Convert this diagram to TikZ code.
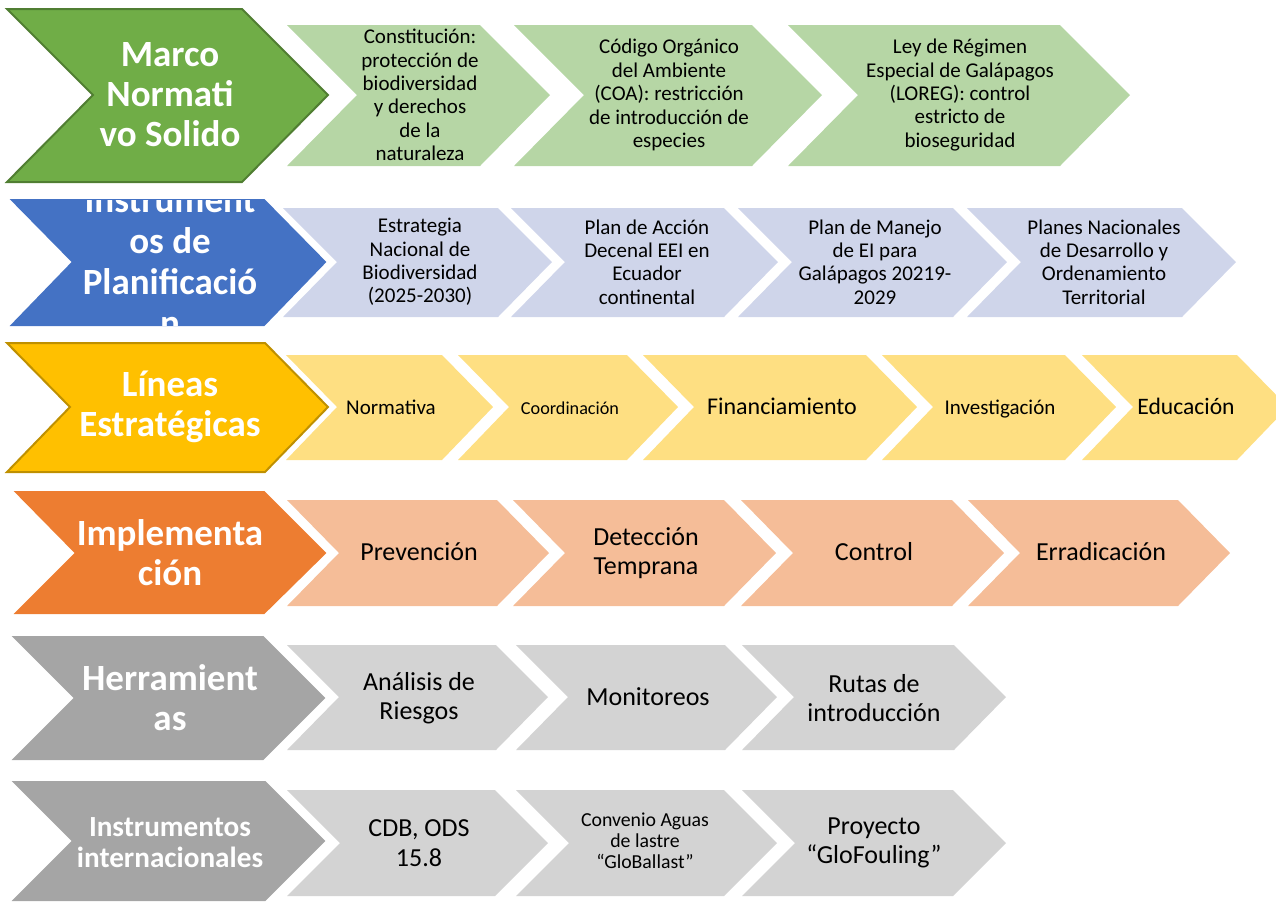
\documentclass[tikz,border=0pt]{standalone}
\usepackage{fontspec}
\setmainfont{Carlito}
\usepackage{tikz}
\usetikzlibrary{positioning}

\definecolor{verde}{HTML}{70AD47}
\definecolor{verdeborde}{HTML}{507E32}
\definecolor{verdeclaro}{RGB}{182,214,165}
\definecolor{azul}{HTML}{4472C4}
\definecolor{azulclaro}{HTML}{CFD5EA}
\definecolor{amarillo}{HTML}{FFC000}
\definecolor{amarilloborde}{HTML}{BF9000}
\definecolor{amarilloclaro}{RGB}{254,223,130}
\definecolor{naranja}{HTML}{ED7D31}
\definecolor{naranjaclaro}{RGB}{245,189,152}
\definecolor{gris}{HTML}{A5A5A5}
\definecolor{grisclaro}{HTML}{D3D3D3}

\begin{document}
\begin{tikzpicture}[x=0.5pt, y=-0.5pt]
    \tikzstyle{principal} = [line width=1pt, line join=miter]
    \tikzstyle{titulo} = [text=white, align=center, inner sep=0pt,
	font=\bfseries\fontsize{18.5}{20}\selectfont]
    \tikzstyle{texto} = [text=black, align=center, inner sep=0pt,
	font=\fontsize{10.5}{11.7}\selectfont]
    \tikzstyle{grande} = [texto, font=\fontsize{13}{14.8}\selectfont]
    \tikzstyle{linea} = [text height=0.75em, text depth=0pt]

	\useasboundingbox (0,0) rectangle (1276,902);
	\clip (0,0) rectangle (1276,902);

	% marco normativo
	\filldraw[principal, fill=verde, draw=verdeborde] (7,9) -- (242,9) -- (328,95) -- (242,182) -- (7,182) -- (93,95) -- cycle;
	\fill[verdeclaro] (287,25) -- (480,25) -- (550,95) -- (480,166) -- (287,166) -- (357,95) -- cycle;
	\fill[verdeclaro] (514,25) -- (752,25) -- (822,95) -- (752,166) -- (514,166) -- (584,95) -- cycle;
	\fill[verdeclaro] (788,25) -- (1060,25) -- (1130,95) -- (1060,166) -- (788,166) -- (858,95) -- cycle;

	% planificacion
	\filldraw[principal, fill=azul, draw=azul] (12,200) -- (264,200) -- (325,262) -- (264,325) -- (12,325) -- (73,262) -- cycle;
	\fill[azulclaro] (283,208) -- (498,208) -- (552,262) -- (498,317) -- (283,317) -- (337,262) -- cycle;
	\fill[azulclaro] (511,208) -- (724,208) -- (778,262) -- (724,317) -- (511,317) -- (565,262) -- cycle;
	\fill[azulclaro] (738,208) -- (953,208) -- (1007,262) -- (953,317) -- (738,317) -- (792,262) -- cycle;
	\fill[azulclaro] (967,208) -- (1182,208) -- (1236,262) -- (1182,317) -- (967,317) -- (1021,262) -- cycle;

	% lineas estrategicas
	\filldraw[principal, fill=amarillo, draw=amarilloborde] (7,343) -- (265,343) -- (328,407) -- (265,472) -- (7,472) -- (70,407) -- cycle;
	\fill[amarilloclaro] (286,355) -- (442,355) -- (493,407) -- (442,460) -- (286,460) -- (337,407) -- cycle;
	\fill[amarilloclaro] (458,355) -- (627,355) -- (678,407) -- (627,460) -- (458,460) -- (509,407) -- cycle;
	\fill[amarilloclaro] (643,355) -- (866,355) -- (917,407) -- (866,460) -- (643,460) -- (694,407) -- cycle;
	\fill[amarilloclaro] (882,355) -- (1065,355) -- (1116,407) -- (1065,460) -- (882,460) -- (933,407) -- cycle;
	\fill[amarilloclaro] (1082,355) -- (1237,355) -- (1288,407) -- (1237,460) -- (1082,460) -- (1133,407) -- cycle;

	% implementacion
	\filldraw[principal, fill=naranja, draw=naranja] (16,492) -- (264,492) -- (325,553) -- (264,613) -- (16,613) -- (76,553) -- cycle;
	\fill[naranjaclaro] (287,500) -- (497,500) -- (549,553) -- (497,606) -- (287,606) -- (339,553) -- cycle;
	\fill[naranjaclaro] (513,500) -- (724,500) -- (776,553) -- (724,606) -- (513,606) -- (565,553) -- cycle;
	\fill[naranjaclaro] (741,500) -- (952,500) -- (1004,553) -- (952,606) -- (741,606) -- (793,553) -- cycle;
	\fill[naranjaclaro] (968,500) -- (1178,500) -- (1230,553) -- (1178,606) -- (968,606) -- (1020,553) -- cycle;

	% herramientas
	\filldraw[principal, fill=gris, draw=gris] (14,637) -- (263,637) -- (324,698) -- (263,759) -- (14,759) -- (75,698) -- cycle;
	\fill[grisclaro] (287,645) -- (496,645) -- (548,697) -- (496,750) -- (287,750) -- (339,697) -- cycle;
	\fill[grisclaro] (516,645) -- (725,645) -- (777,697) -- (725,750) -- (516,750) -- (568,697) -- cycle;
	\fill[grisclaro] (742,645) -- (954,645) -- (1006,697) -- (954,750) -- (742,750) -- (794,697) -- cycle;

	% internacionales
	\filldraw[principal, fill=gris, draw=gris] (14,782) -- (265,782) -- (324,841) -- (265,900) -- (14,900) -- (73,841) -- cycle;
	\fill[grisclaro] (287,790) -- (495,790) -- (548,843) -- (495,896) -- (287,896) -- (340,843) -- cycle;
	\fill[grisclaro] (516,790) -- (724,790) -- (777,843) -- (724,896) -- (516,896) -- (569,843) -- cycle;
	\fill[grisclaro] (742,790) -- (953,790) -- (1006,843) -- (953,896) -- (742,896) -- (795,843) -- cycle;

	% textos
	\path
		node[titulo] (marco) at (170,95) {Marco\\Normati\\vo Solido}
		node[texto] (constitucion) at (420,95) {Constitución:\\protección de\\biodiversidad\\y derechos\\de la\\naturaleza}
		node[texto] (coa) at (669,95) {Código Orgánico\\del Ambiente\\(COA): restricción\\de introducción de\\especies}
		node[texto] (loreg) at (960,95) {Ley de Régimen\\Especial de Galápagos\\(LOREG): control\\estricto de\\bioseguridad}

		node[texto] (estrategia) at (420,262) {Estrategia\\Nacional de\\Biodiversidad\\(2025-2030)}
		node[texto] (decenal) at (647,262) {Plan de Acción\\Decenal EEI en\\Ecuador\\continental}
		node[texto] (manejo) at (875,262) {Plan de Manejo\\de EI para\\Galápagos 20219-\\2029}
		node[texto] (planes) at (1104,262) {Planes Nacionales\\de Desarrollo y\\Ordenamiento\\Territorial}

		node[titulo] (lineas) at (170,407) {Líneas\\Estratégicas}
		node[texto, linea] (normativa) at (391,407) {Normativa}
		node[texto, linea, font=\fontsize{9.1}{11}\selectfont] (coordinacion) at (570,407) {Coordinación}
		node[texto, linea, font=\fontsize{12}{14}\selectfont] (financiamiento) at (782,407) {Financiamiento}
		node[texto, linea] (investigacion) at (1000,407) {Investigación}
		node[texto, linea, font=\fontsize{11.8}{14}\selectfont] (educacion) at (1186,407) {Educación}

		node[titulo] (implementacion) at (170,553) {Implementa\\ción}
		node[grande, linea] (prevencion) at (419,553) {Prevención}
		node[grande] (deteccion) at (646,553) {Detección\\Temprana}
		node[grande, linea] (control) at (874,553) {Control}
		node[grande, linea] (erradicacion) at (1101,553) {Erradicación}

		node[titulo] (herramientas) at (170,698) {Herramient\\as}
		node[grande] (riesgos) at (419,698) {Análisis de\\Riesgos}
		node[grande, linea] (monitoreos) at (648,698) {Monitoreos}
		node[grande] (rutas) at (874,698) {Rutas de\\introducción}

		node[titulo, font=\bfseries\fontsize{14.6}{15.5}\selectfont] (internacionales) at (170,843) {Instrumentos\\internacionales}
		node[grande] (cdb) at (419,843) {CDB, ODS\\15.8}
		node[texto, font=\fontsize{9.9}{10.6}\selectfont] (globallast) at (645,841) {Convenio Aguas\\de lastre\\“GloBallast”}
		node[grande] (glofouling) at (874,843) {Proyecto\\“GloFouling”}
	;

	% titulo recortado
	\begin{scope}
		\clip (0,200) rectangle (340,325);
		\node[titulo, font=\bfseries\fontsize{18.5}{20.5}\selectfont] (instrumentos) at (170,262) {Instrument\\os de\\Planificació\\n};
	\end{scope}
\end{tikzpicture}
\end{document}
